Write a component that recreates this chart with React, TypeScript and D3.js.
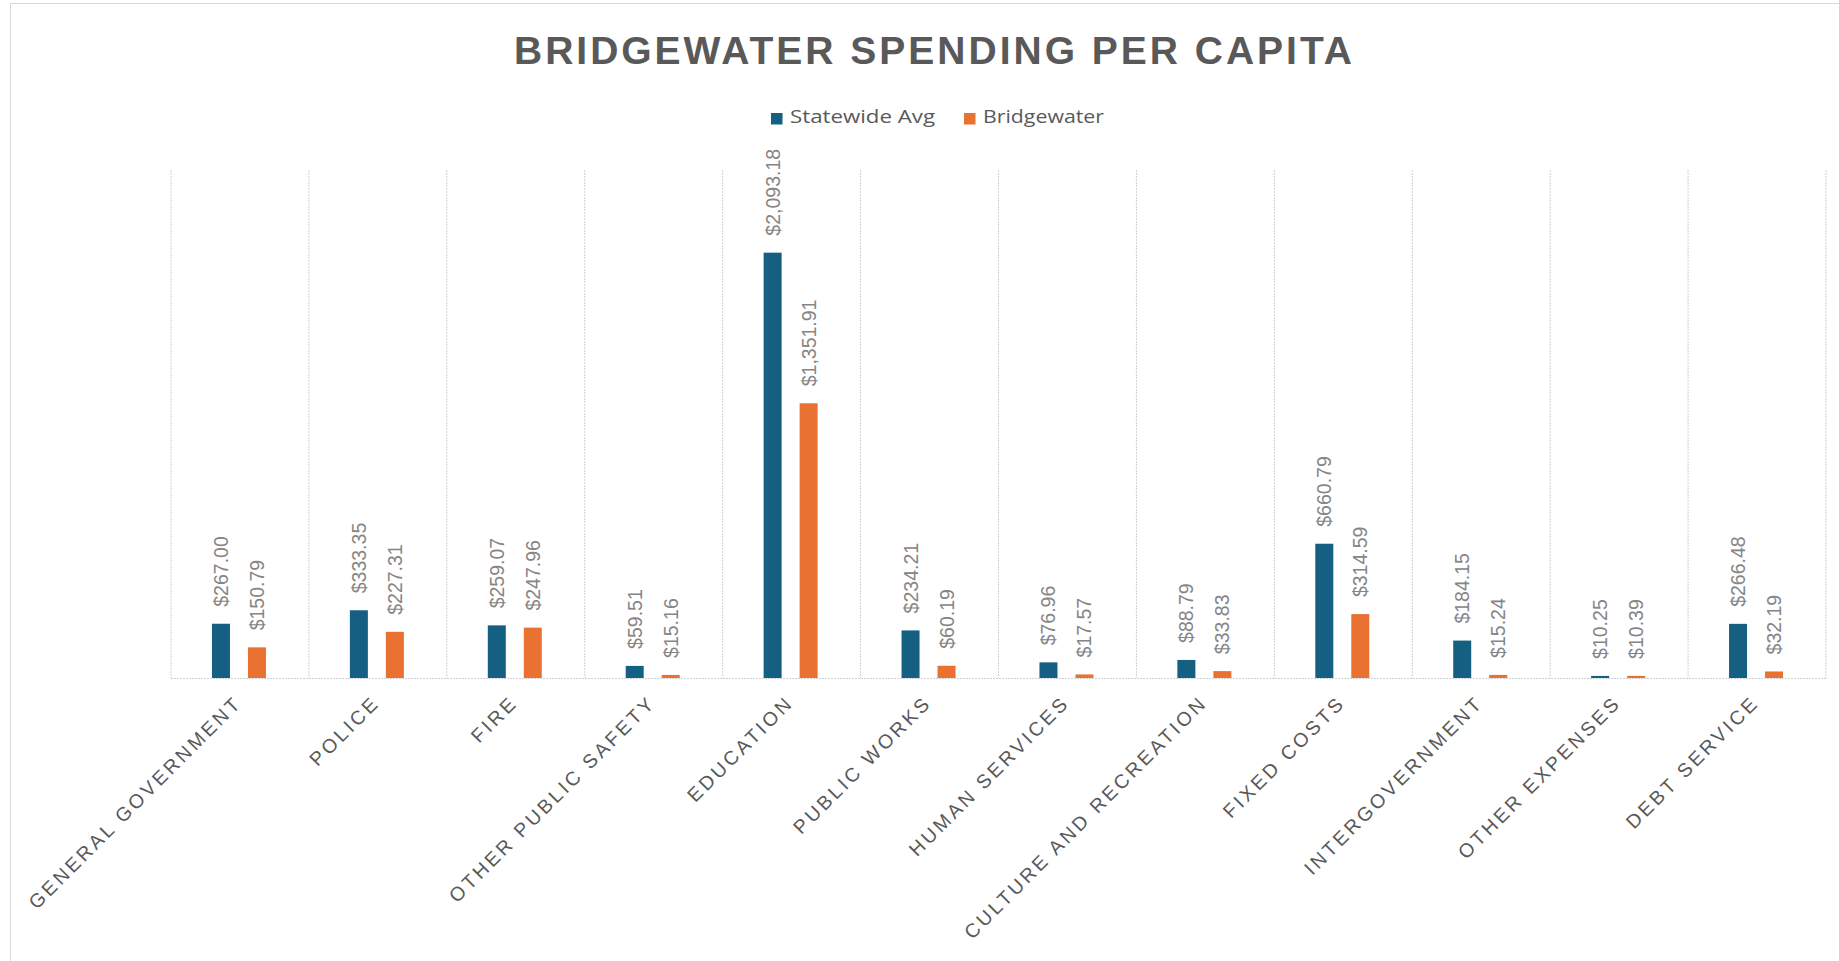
import React from "react";
import * as d3 from "d3";

const categories = [
  "GENERAL GOVERNMENT",
  "POLICE",
  "FIRE",
  "OTHER PUBLIC SAFETY",
  "EDUCATION",
  "PUBLIC WORKS",
  "HUMAN SERVICES",
  "CULTURE AND RECREATION",
  "FIXED COSTS",
  "INTERGOVERNMENT",
  "OTHER EXPENSES",
  "DEBT SERVICE",
];
const statewideAvg = [267.0, 333.35, 259.07, 59.51, 2093.18, 234.21, 76.96, 88.79, 660.79, 184.15, 10.25, 266.48];
const bridgewater = [150.79, 227.31, 247.96, 15.16, 1351.91, 60.19, 17.57, 33.83, 314.59, 15.24, 10.39, 32.19];
const seriesNames = ["Statewide Avg", "Bridgewater"];
const seriesColors = ["#156082", "#E97132"];
const title = "BRIDGEWATER SPENDING PER CAPITA";

const W = 1839;
const H = 961;
const plot = { left: 171, right: 1826, top: 170, bottom: 678 };

export default function App() {
  const x = d3.scaleBand<string>().domain(categories).range([plot.left, plot.right]).padding(0);
  const inner = d3.scaleBand<string>().domain(seriesNames).range([-28, 26]).paddingInner(0.5).paddingOuter(0);
  const y = d3.scaleLinear().domain([0, 2500]).range([plot.bottom, plot.top]);
  const fmt = (v: number) => "$" + d3.format(",.2f")(v);
  const series = [statewideAvg, bridgewater];
  const gridXs = categories.map((c) => x(c) as number).concat([plot.right]);

  return (
    <svg width={W} height={H} style={{ position: "absolute", left: 0, top: 0, background: "#fff" }}>
      <rect x={10.5} y={3.5} width={W + 20} height={H + 20} fill="#fff" stroke="#d9d9d9" strokeWidth={1} />
      <text
        x={933}
        y={64}
        textAnchor="middle"
        fontFamily="'Liberation Sans', Arial, sans-serif"
        fontWeight="bold"
        fontSize={39}
        fill="#595959"
        textLength={838}
        lengthAdjust="spacing"
      >
        {title}
      </text>
      {/* legend */}
      {seriesNames.map((s, i) => {
        const lx = [771, 964][i];
        const tl = [145, 121][i];
        return (
          <g key={s}>
            <rect x={lx} y={113} width={11.5} height={11.5} fill={seriesColors[i]} />
            <text
              x={lx + 19}
              y={123}
              fontFamily="'Open Sans', 'Liberation Sans', sans-serif"
              fontSize={19}
              fill="#595959"
              textLength={tl}
              lengthAdjust="spacingAndGlyphs"
            >
              {s}
            </text>
          </g>
        );
      })}
      {/* gridlines */}
      {gridXs.map((gx, i) => (
        <line key={i} x1={gx} x2={gx} y1={plot.top} y2={plot.bottom} stroke="#d0d0d0" strokeWidth={1} strokeDasharray="2,1" />
      ))}
      <line x1={plot.left} x2={plot.right} y1={plot.bottom + 0.5} y2={plot.bottom + 0.5} stroke="#d0d0d0" strokeWidth={1.2} strokeDasharray="2,1" />
      {/* bars */}
      {categories.map((c, ci) => {
        const cx = (x(c) as number) + x.bandwidth() / 2;
        return (
          <g key={c}>
            {series.map((vals, si) => {
              const bx = cx + (inner(seriesNames[si]) as number);
              const bw = inner.bandwidth();
              const top = y(vals[ci]);
              const labelX = bx + bw / 2 + 7;
              const labelY = top - 17;
              return (
                <g key={si}>
                  <rect x={bx} y={top} width={bw} height={plot.bottom - top} fill={seriesColors[si]} />
                  <text
                    transform={`translate(${labelX},${labelY}) rotate(-90)`}
                    fontFamily="'Liberation Sans', Arial, sans-serif"
                    fontSize={19.5}
                    fill="#858585"
                  >
                    {fmt(vals[ci])}
                  </text>
                </g>
              );
            })}
            <text
              transform={`translate(${cx + 3},${plot.bottom + 26}) rotate(-45)`}
              textAnchor="end"
              fontFamily="'Liberation Sans', Arial, sans-serif"
              fontSize={19.5}
              letterSpacing={3}
              fill="#595959"
            >
              {c}
            </text>
          </g>
        );
      })}
    </svg>
  );
}
